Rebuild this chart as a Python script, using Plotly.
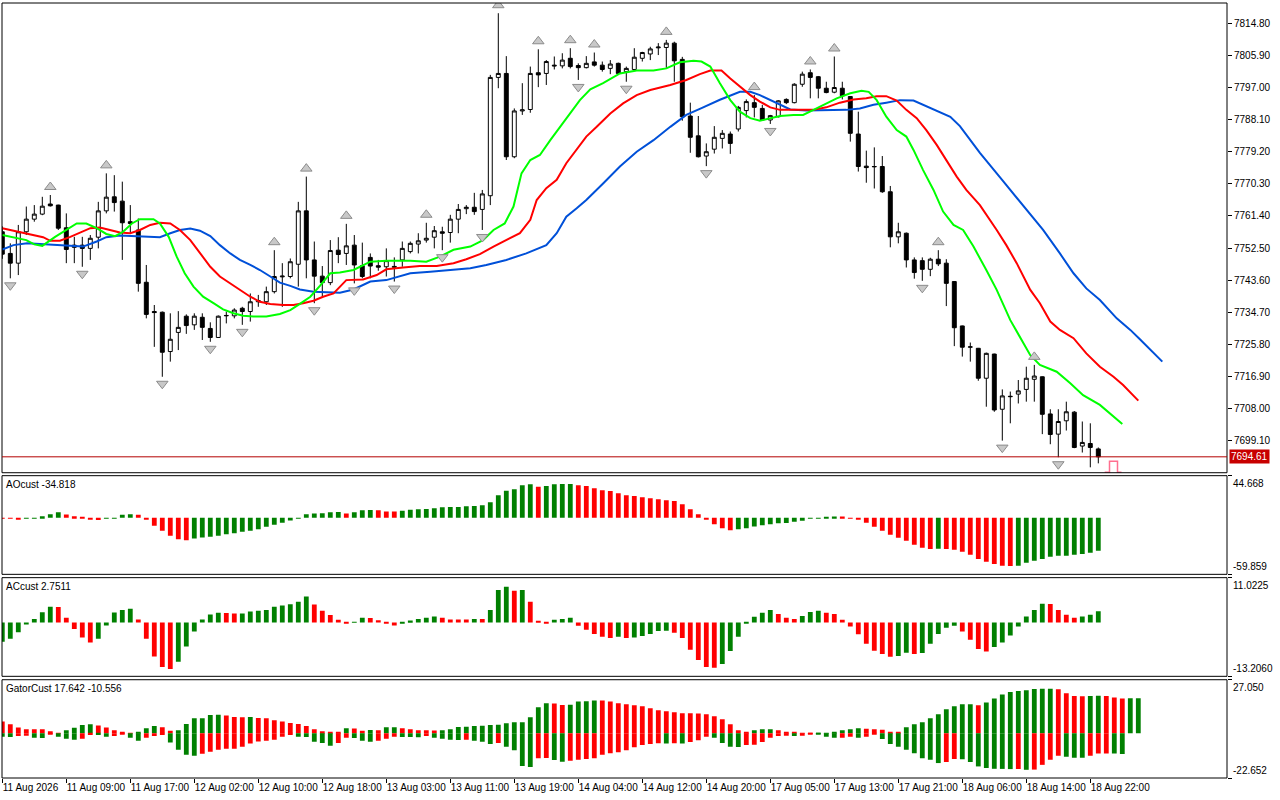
import plotly.graph_objects as go

# hourly bars, index 0..137 (11 Aug 2026 01:00 .. 18 Aug 23:00), one label every 8 bars
tick_bars = list(range(0, 137, 8))
tick_labels = ["11 Aug 2026", "11 Aug 09:00", "11 Aug 17:00", "12 Aug 02:00", "12 Aug 10:00",
               "12 Aug 18:00", "13 Aug 03:00", "13 Aug 11:00", "13 Aug 19:00", "14 Aug 04:00",
               "14 Aug 12:00", "14 Aug 20:00", "17 Aug 05:00", "17 Aug 13:00", "17 Aug 21:00",
               "18 Aug 06:00", "18 Aug 14:00", "18 Aug 22:00"]

price_ticks = [7699.10, 7708.00, 7716.90, 7725.80, 7734.70, 7743.60, 7752.50,
               7761.40, 7770.30, 7779.20, 7788.10, 7797.00, 7805.90, 7814.80]
last_price = 7694.61

opens = [7757.0, 7751.0, 7748.3, 7757.0, 7760.5, 7761.9, 7764.7, 7764.4, 7758.1, 7753.3,
         7753.3, 7752.4, 7755.5, 7762.8, 7766.7, 7765.5, 7759.8, 7757.5, 7743.0, 7734.9,
         7734.7, 7723.8, 7729.1, 7733.6, 7731.2, 7733.3, 7730.2, 7727.7, 7733.7, 7733.7,
         7735.8, 7734.9, 7737.6, 7737.6, 7740.4, 7744.5, 7744.6, 7748.0, 7762.8, 7749.2,
         7744.7, 7742.9, 7751.9, 7751.0, 7753.3, 7747.6, 7749.9, 7747.6, 7747.3, 7747.4,
         7749.2, 7751.5, 7753.6, 7754.7, 7755.5, 7757.0, 7756.8, 7760.5, 7763.4, 7763.8,
         7763.2, 7767.0, 7799.8, 7800.9, 7777.8, 7790.5, 7790.9, 7801.1, 7800.9, 7803.2,
         7803.0, 7805.1, 7803.1, 7802.5, 7804.1, 7803.2, 7802.3, 7803.7, 7801.4, 7802.0,
         7805.1, 7806.3, 7808.0, 7808.1, 7809.3, 7804.8, 7789.1, 7783.6, 7778.0, 7779.9,
         7782.9, 7784.1, 7785.5, 7790.6, 7792.8, 7791.2, 7788.0, 7788.9, 7793.7, 7792.8,
         7797.9, 7801.1, 7800.0, 7796.8, 7795.7, 7796.8, 7794.5, 7784.1, 7775.2, 7775.0,
         7775.1, 7768.1, 7755.6, 7756.6, 7749.2, 7749.0, 7746.6, 7749.4, 7748.3, 7743.2,
         7730.9, 7725.0, 7724.7, 7716.4, 7723.1, 7707.8, 7711.4, 7712.0, 7713.3, 7716.1,
         7716.8, 7706.5, 7700.9, 7704.6, 7707.0, 7697.6, 7698.3, 7696.8]
highs = [7758.5, 7753.8, 7758.9, 7764.0, 7764.4, 7766.7, 7767.2, 7764.5, 7762.1, 7755.6,
         7755.6, 7756.1, 7765.3, 7773.2, 7772.7, 7770.9, 7764.4, 7760.7, 7747.8, 7736.7,
         7734.9, 7734.4, 7735.0, 7734.1, 7734.4, 7734.4, 7731.9, 7733.8, 7734.9, 7735.8,
         7736.2, 7739.9, 7739.5, 7741.8, 7751.9, 7748.3, 7749.6, 7765.3, 7772.3, 7754.3,
         7747.5, 7754.7, 7755.5, 7759.2, 7756.1, 7754.0, 7751.0, 7749.2, 7752.4, 7749.9,
         7754.3, 7754.3, 7756.6, 7759.5, 7758.6, 7758.4, 7761.7, 7764.7, 7764.4, 7767.8,
         7768.6, 7800.5, 7817.6, 7805.7, 7791.2, 7798.2, 7802.8, 7807.6, 7804.6, 7805.6,
         7806.5, 7807.9, 7803.7, 7805.7, 7806.7, 7804.2, 7804.6, 7803.9, 7802.8, 7807.9,
         7806.9, 7808.3, 7809.3, 7810.2, 7809.7, 7805.5, 7792.8, 7789.1, 7781.5, 7786.3,
         7785.2, 7784.8, 7791.9, 7793.7, 7794.9, 7792.2, 7789.4, 7793.5, 7794.0, 7798.2,
         7801.4, 7802.0, 7800.2, 7798.6, 7805.6, 7798.6, 7794.6, 7790.3, 7779.5, 7780.4,
         7778.0, 7769.7, 7759.5, 7756.8, 7749.9, 7749.9, 7749.8, 7751.9, 7749.4, 7743.3,
         7731.0, 7726.3, 7724.8, 7723.5, 7723.2, 7713.3, 7712.7, 7715.9, 7719.6, 7720.1,
         7716.9, 7707.8, 7707.8, 7709.9, 7707.3, 7704.4, 7703.9, 7697.2]
lows = [7749.5, 7744.1, 7745.0, 7756.1, 7759.8, 7761.6, 7764.0, 7757.5, 7748.3, 7748.3,
        7747.3, 7749.2, 7752.4, 7762.1, 7762.6, 7749.2, 7756.6, 7740.4, 7733.0, 7725.1,
        7716.8, 7721.0, 7724.2, 7728.7, 7729.8, 7727.0, 7726.5, 7727.6, 7731.6, 7733.0,
        7731.2, 7732.1, 7736.2, 7736.7, 7739.9, 7736.2, 7744.1, 7741.8, 7744.1, 7737.2,
        7739.0, 7742.2, 7748.3, 7747.8, 7742.7, 7744.1, 7744.1, 7746.2, 7744.6, 7743.2,
        7747.3, 7751.0, 7751.0, 7754.0, 7752.4, 7751.9, 7754.0, 7756.6, 7761.9, 7761.7,
        7757.5, 7764.4, 7796.8, 7776.9, 7777.4, 7789.4, 7790.0, 7797.1, 7797.7, 7802.0,
        7802.3, 7802.3, 7799.1, 7802.3, 7802.8, 7801.4, 7800.7, 7800.5, 7798.6, 7801.9,
        7804.2, 7804.6, 7806.0, 7802.3, 7798.6, 7787.8, 7778.9, 7777.6, 7775.2, 7778.7,
        7780.1, 7778.6, 7784.8, 7788.7, 7788.7, 7787.8, 7786.9, 7788.7, 7792.4, 7792.6,
        7797.2, 7794.0, 7794.0, 7795.4, 7795.4, 7793.7, 7782.0, 7773.7, 7770.6, 7769.0,
        7767.8, 7752.7, 7753.8, 7747.1, 7744.0, 7743.4, 7744.7, 7747.5, 7736.4, 7725.3,
        7722.4, 7721.0, 7715.7, 7708.5, 7707.1, 7699.1, 7703.9, 7709.4, 7709.9, 7709.9,
        7700.9, 7698.1, 7694.5, 7701.9, 7697.0, 7695.8, 7691.7, 7692.8]
closes = [7750.8, 7748.3, 7757.0, 7760.5, 7761.9, 7764.1, 7764.2, 7758.0, 7752.1, 7752.7,
          7752.4, 7755.2, 7762.8, 7766.6, 7765.1, 7759.5, 7759.3, 7742.7, 7734.1, 7734.6,
          7723.6, 7727.2, 7730.5, 7731.0, 7733.6, 7730.5, 7727.7, 7733.6, 7733.8, 7735.3,
          7734.9, 7737.6, 7737.9, 7740.4, 7744.6, 7744.7, 7748.7, 7762.8, 7749.2, 7744.7,
          7742.9, 7751.8, 7750.7, 7753.1, 7747.8, 7744.6, 7747.5, 7747.2, 7749.0, 7747.2,
          7752.4, 7753.8, 7754.5, 7755.2, 7757.3, 7756.6, 7760.5, 7763.2, 7763.8, 7762.6,
          7767.5, 7799.8, 7800.9, 7777.8, 7790.5, 7790.8, 7800.9, 7800.5, 7804.2, 7803.0,
          7804.6, 7802.8, 7802.5, 7803.7, 7803.2, 7802.0, 7803.5, 7800.9, 7802.3, 7805.4,
          7806.7, 7807.7, 7808.2, 7809.3, 7804.4, 7788.9, 7783.2, 7777.8, 7779.2, 7783.2,
          7784.3, 7781.5, 7791.5, 7793.1, 7791.5, 7788.0, 7789.2, 7793.3, 7792.8, 7797.9,
          7800.7, 7799.8, 7796.8, 7795.6, 7797.0, 7794.7, 7784.3, 7775.1, 7774.8, 7775.1,
          7768.1, 7755.6, 7757.0, 7749.2, 7745.7, 7746.6, 7749.4, 7748.1, 7742.7, 7730.4,
          7725.0, 7725.1, 7716.4, 7723.3, 7707.6, 7711.5, 7711.3, 7712.9, 7716.4, 7717.0,
          7706.4, 7700.8, 7704.4, 7707.1, 7697.2, 7698.6, 7697.2, 7694.61]

# bars carrying a fractal mark
up_fractals = [6, 13, 34, 38, 43, 53, 62, 67, 71, 74, 83, 94, 101, 104, 117, 129]
down_fractals = [1, 10, 20, 26, 30, 39, 44, 49, 55, 60, 72, 78, 88, 96, 115, 125, 132]

# alligator lines, sampled (bar position, price); they run past the last bar (shifted)
lips_k = [0, 2, 3, 4, 5, 6.6, 8, 9.3, 10.5, 11.8,
          13, 14.1, 15.1, 16.2, 17.2, 18.9, 19.7, 20.8, 21.8, 22.8,
          23.9, 25.1, 26.4, 27.6, 28.9, 30.1, 31.4, 33, 34.7, 36,
          37.2, 38.5, 39.7, 41, 42.2, 43.9, 46, 48, 51, 53,
          54.7, 56.4, 58.5, 60.1, 61.4, 62.8, 63.9, 64.9, 66, 67.2,
          68.5, 69.7, 71, 72.2, 73.5, 75.1, 77.2, 79.3, 81.4, 83,
          84.7, 86.4, 87.4, 88.5, 89.7, 91, 92.2, 93.5, 94.7, 96,
          97.2, 98.9, 100.1, 101.4, 102.6, 104.3, 106, 107.4, 108.3, 109.3,
          110.5, 111.8, 113, 113.9, 115.1, 116.4, 117.6, 118.9, 120.1, 121.4,
          123, 124.3, 126, 127.2, 128.5, 129.7, 131.8, 133.5, 135.1, 137.2,
          138.9, 140]
lips_p = [7756.1, 7755.2, 7754.7, 7753.5, 7753.1, 7755.6, 7757.5, 7759.3, 7759.3, 7758.0,
          7756.4, 7755.8, 7757.0, 7759.3, 7760.5, 7760.5, 7759.3, 7755.6, 7750.1, 7745.5,
          7741.8, 7739.0, 7737.2, 7735.5, 7734.4, 7733.7, 7733.5, 7733.5, 7734.2, 7735.3,
          7737.0, 7739.0, 7742.0, 7745.5, 7745.7, 7746.4, 7748.7, 7749.0, 7749.0, 7748.7,
          7750.1, 7752.0, 7752.9, 7754.7, 7757.5, 7759.3, 7764.0, 7773.2, 7776.9, 7778.3,
          7782.4, 7786.1, 7789.8, 7793.5, 7796.5, 7798.2, 7800.9, 7801.7, 7801.7, 7802.3,
          7804.0, 7804.4, 7804.2, 7802.8, 7798.2, 7793.5, 7790.3, 7788.5, 7787.8, 7788.5,
          7789.1, 7789.4, 7789.4, 7790.8, 7792.2, 7794.0, 7795.4, 7796.1, 7795.8, 7793.5,
          7788.9, 7785.2, 7783.4, 7779.7, 7774.1, 7768.6, 7762.6, 7758.9, 7757.5, 7752.9,
          7746.4, 7740.9, 7732.5, 7727.9, 7722.8, 7720.1, 7718.2, 7715.0, 7711.7, 7709.0,
          7705.7, 7703.7]
teeth_k = [0, 2.2, 3.9, 5.1, 6, 7.2, 8.5, 9.7, 11, 12.2,
           13.5, 14.7, 16, 17.2, 18.5, 19.7, 21, 22.2, 23.5, 24.7,
           26, 27.2, 28.5, 29.7, 31, 32.2, 33.5, 35.1, 36.4, 37.6,
           38.9, 40.1, 41.4, 43, 45.1, 46.8, 48, 50.1, 52.2, 54.3,
           56.4, 58, 59.7, 61.4, 63, 64.7, 66, 66.8, 68, 69.3,
           70.5, 71.8, 73, 74.3, 76, 77.6, 79.3, 81, 83.5, 85.5,
           87.2, 88.5, 89.9, 91, 92.2, 93.5, 94.7, 96, 97.2, 98.9,
           101.4, 103, 104.7, 106.4, 108, 109.3, 110.5, 111.8, 113, 114.3,
           115.5, 116.8, 118, 119.3, 120.5, 122.2, 124.3, 125.5, 126.8, 128.5,
           129.7, 131, 132.2, 133.9, 135.5, 137.2, 138.9, 140.1, 142]
teeth_p = [7758.0, 7757.0, 7756.1, 7755.5, 7754.5, 7754.5, 7755.6, 7756.8, 7758.0, 7758.2,
           7757.5, 7756.8, 7756.6, 7757.5, 7758.9, 7759.5, 7759.3, 7757.5, 7754.7, 7751.0,
           7747.3, 7744.6, 7742.7, 7740.9, 7739.0, 7737.6, 7737.0, 7736.7, 7736.7, 7737.2,
           7737.9, 7739.0, 7739.9, 7743.6, 7743.8, 7745.0, 7746.6, 7747.1, 7747.5, 7747.5,
           7748.3, 7749.4, 7750.8, 7752.9, 7754.7, 7756.6, 7760.3, 7765.8, 7769.1, 7771.4,
           7776.0, 7779.7, 7783.4, 7786.1, 7789.8, 7792.6, 7794.9, 7796.3, 7797.7, 7799.1,
           7800.7, 7801.7, 7801.7, 7799.5, 7797.2, 7794.9, 7793.1, 7791.5, 7790.8, 7790.8,
           7790.8, 7791.5, 7792.8, 7793.7, 7794.0, 7794.6, 7794.6, 7793.4, 7790.8, 7788.5,
           7785.2, 7781.1, 7776.9, 7772.3, 7768.6, 7764.4, 7757.5, 7753.3, 7748.3, 7740.9,
           7737.2, 7732.1, 7729.8, 7727.5, 7723.3, 7719.6, 7716.8, 7714.5, 7710.2]
jaw_k = [0, 1.4, 3.1, 5.1, 8, 10.1, 11.8, 13, 14.7, 16.8,
         18, 19.7, 21, 22.2, 23.5, 24.7, 26, 27.2, 28.5, 29.7,
         31, 32.2, 33.5, 34.7, 36, 37.2, 38.9, 41, 42.2, 43.9,
         46, 48, 51, 53.5, 56.4, 58.5, 60.5, 63, 65.5, 68,
         69.3, 70.5, 71.8, 73, 75.1, 77.2, 79.3, 81.4, 83.5, 85.5,
         87.4, 89.7, 92.2, 93.5, 94.7, 96, 97.2, 98.5, 100.5, 103.5,
         105.5, 107.2, 108.9, 110.5, 112.2, 113.9, 115.5, 117.2, 118.5, 119.7,
         121, 122.2, 125, 127.5, 130.1, 132.2, 133.9, 135.5, 137.2, 139.3,
         141, 142.2, 145]
jaw_p = [7752.1, 7753.3, 7753.8, 7753.6, 7753.3, 7752.9, 7754.3, 7755.5, 7756.0, 7755.8,
         7755.5, 7755.5, 7756.6, 7757.5, 7757.9, 7757.3, 7755.8, 7753.3, 7751.0, 7749.2,
         7747.8, 7746.4, 7744.6, 7742.9, 7742.0, 7741.0, 7740.4, 7740.1, 7740.1, 7741.0,
         7743.2, 7743.6, 7745.5, 7745.9, 7746.4, 7746.9, 7747.8, 7749.2, 7751.0, 7753.3,
         7756.6, 7761.2, 7763.5, 7765.8, 7770.4, 7775.1, 7779.2, 7782.4, 7786.1, 7789.4,
         7791.3, 7793.6, 7795.8, 7795.8, 7794.9, 7793.5, 7792.2, 7790.9, 7790.6, 7790.8,
         7790.8, 7791.2, 7792.2, 7792.8, 7793.5, 7793.4, 7791.9, 7790.3, 7788.9, 7786.3,
         7782.4, 7778.9, 7771.3, 7764.4, 7757.5, 7751.0, 7745.5, 7741.3, 7738.1, 7733.0,
         7729.8, 7727.2, 7721.0]

# small pink marker to the right of the last bar
marker_k = [137.8, 138.4, 138.4, 139.4, 139.4, 139.9]
marker_p = [7690.3, 7690.3, 7693.4, 7693.4, 7690.3, 7690.3]

ao = [-0.6, -0.8, -0.9, -0.5, -0.2, 1.8, 3.9, 6.0, 3.5, 1.8,
      0.3, -1.1, -2.4, -0.6, -0.2, 3.2, 3.9, 3.2, -2.1, -8.5,
      -13.8, -19.1, -22.6, -23.7, -21.9, -20.8, -20.1, -19.1, -17.3, -16.3,
      -14.8, -13.8, -12.0, -9.5, -7.4, -5.3, -2.8, -0.3, 3.9, 4.6,
      4.9, 6.0, 6.1, 4.6, 6.0, 8.1, 8.2, 8.0, 6.7, 6.6,
      7.4, 8.6, 9.2, 9.3, 10.2, 11.3, 11.4, 11.5, 12.4, 12.5,
      13.4, 16.6, 24.0, 28.6, 30.4, 34.6, 35.7, 32.9, 33.6, 35.7,
      35.8, 35.9, 34.6, 33.6, 31.4, 29.3, 28.3, 26.1, 24.0, 23.0,
      21.9, 20.8, 19.8, 18.7, 17.7, 14.5, 9.2, 3.9, -2.1, -6.7,
      -11.0, -13.1, -12.0, -11.0, -9.2, -7.8, -6.7, -5.7, -5.6, -4.2,
      -3.2, -0.7, -0.4, 0.7, 1.4, 1.3, -0.5, -1.1, -5.3, -9.5,
      -13.8, -18.0, -21.2, -24.4, -28.6, -31.8, -32.9, -32.8, -33.0, -33.9,
      -36.0, -39.2, -43.5, -46.6, -48.8, -50.9, -51.0, -50.8, -47.7, -45.6,
      -43.5, -41.3, -40.3, -40.2, -39.2, -38.2, -37.1, -34.818]
ac = [-4.7, -4.0, -2.4, -0.5, 0.9, 2.5, 3.85, 3.8, 1.15, -1.56,
      -3.7, -4.9, -4.0, -0.74, 2.46, 3.1, 3.36, 0.74, -4.0, -8.35,
      -10.9, -11.4, -9.6, -5.9, -2.2, 0.74, 1.97, 2.38, 2.36, 2.2,
      2.22, 2.7, 2.87, 3.1, 3.85, 4.18, 4.5, 5.08, 6.39, 4.42,
      2.87, 1.88, 0.66, -0.08, 0.08, 1.15, 1.13, 0.57, -0.16, -0.74,
      -0.15, 0.49, 0.9, 1.15, 1.47, 1.15, 0.74, 0.73, 0.72, 0.9,
      0.89, 3.1, 8.0, 8.76, 7.78, 8.0, 5.08, 0.4, -0.25, 0.66,
      0.9, 1.15, -0.8, -1.8, -2.8, -3.5, -3.77, -3.5, -3.77, -3.7,
      -3.3, -2.8, -2.05, -2.0, -2.5, -3.8, -6.7, -9.2, -10.9, -11.1,
      -10.2, -7.0, -3.5, -0.1, 1.4, 2.4, 3.1, 2.1, 1.15, 0.9,
      1.6, 2.6, 2.9, 2.4, 2.1, 0.66, -1.0, -2.9, -5.2, -6.9,
      -7.7, -8.4, -8.2, -7.4, -7.7, -7.45, -5.2, -2.8, -1.3, -0.8,
      -2.2, -4.2, -6.5, -7.1, -6.0, -4.9, -3.2, -1.0, 1.5, 3.1,
      4.6, 4.55, 3.1, 1.9, 1.15, 1.5, 1.9, 2.7511]
gator_up = [5.88, 4.54, 2.86, 2.02, 2.0, 1.98, 1.0, 0.2, 1.5, 2.7,
            4.2, 4.5, 3.9, 2.9, 1.5, 0.5, 0.1, 0.5, 2.5, 3.7,
            3.0, 1.3, 1.5, 4.7, 7.56, 7.6, 9.24, 9.3, 8.9, 8.2,
            8.1, 8.2, 7.7, 7.6, 6.55, 5.9, 5.2, 4.7, 3.7, 2.0,
            1.0, 0.5, 0.4, 2.5, 2.4, 1.2, 1.6, 1.5, 3.0, 3.05,
            2.5, 2.0, 1.5, 1.45, 1.4, 1.5, 2.0, 3.2, 3.25, 3.7,
            3.75, 4.2, 4.25, 5.0, 5.5, 5.6, 8.1, 13.1, 15.1, 15.0,
            14.3, 14.35, 16.1, 16.15, 16.6, 16.55, 16.1, 15.1, 14.6, 14.1,
            13.6, 12.6, 11.6, 11.1, 10.6, 10.1, 10.05, 10.0, 9.6, 8.6,
            7.1, 4.5, 1.5, 0.5, 1.5, 2.0, 2.05, 1.5, 0.5, 0.3,
            0.2, 0.1, 0.15, 0.2, 0.5, 1.5, 2.0, 2.5, 2.3, 2.0,
            1.7, 0.8, 0.3, 3.0, 4.5, 5.5, 7.6, 9.6, 12.1, 13.6,
            14.6, 14.65, 14.1, 15.5, 17.6, 19.6, 20.8, 21.3, 21.7, 22.3,
            22.5, 22.55, 22.2, 20.2, 18.8, 18.7, 18.8, 18.9, 18.8, 18.0,
            17.6, 17.62, 17.642]
gator_down = [-1.85, -1.9, -1.35, -1.3, -2.35, -2.4, -0.3, -1.85, -2.85, -3.35,
              -2.85, -0.85, -0.9, -1.85, -1.35, -0.5, -2.35, -3.85, -2.35, -1.35,
              -0.85, -4.7, -8.4, -10.9, -11.4, -10.4, -9.4, -8.4, -7.9, -7.85,
              -6.9, -5.2, -4.2, -3.85, -3.35, -1.85, -0.85, -1.85, -1.9, -4.35,
              -4.9, -6.4, -4.9, -2.35, -2.4, -3.85, -4.35, -3.85, -2.85, -1.85,
              -1.9, -1.95, -2.0, -1.4, -2.35, -2.85, -3.35, -3.4, -3.35, -3.85,
              -4.35, -5.4, -4.9, -6.9, -8.6, -16.6, -17.1, -12.6, -12.5, -13.6,
              -14.4, -13.9, -13.4, -13.1, -12.6, -10.9, -10.1, -9.6, -8.6, -7.1,
              -5.9, -5.5, -5.1, -5.15, -5.1, -5.15, -4.5, -3.5, -1.8, -2.35,
              -4.9, -6.9, -6.95, -5.9, -5.85, -4.5, -2.35, -1.35, -1.3, -1.35,
              -1.3, -0.5, -0.8, -1.85, -2.35, -2.3, -1.8, -2.35, -1.85, -0.5,
              -2.9, -5.4, -6.9, -8.4, -10.1, -12.6, -13.4, -15.1, -14.6, -13.1,
              -13.15, -14.6, -16.8, -17.6, -18.0, -18.05, -18.15, -18.1, -18.5, -18.4,
              -16.0, -13.4, -11.4, -11.9, -12.4, -12.45, -11.4, -10.3, -10.2, -10.25,
              -10.556]

# fixed scales of the four windows
price_range = [7690.20, 7820.43]
ao_range = [-59.859, 44.668]
ac_range = [-13.2060, 11.0225]
gator_range = [-22.652, 27.050]
ao_labels = ["44.668", "-59.859"]
ac_labels = ["11.0225", "-13.2060"]
gator_labels = ["27.050", "-22.652"]

GREEN = "#008000"
RED = "#ff0000"
FONT = "Liberation Sans"


def bar_colors(values, first, magnitude=False):
    """Green when a bar grows against the previous one, red when it shrinks."""
    colors = [first]
    for prev, cur in zip(values[:-1], values[1:]):
        a, b = (abs(prev), abs(cur)) if magnitude else (prev, cur)
        if b > a:
            colors.append(GREEN)
        elif b < a:
            colors.append(RED)
        else:
            colors.append(colors[-1])
    return colors


def build_figure():
    fig = go.Figure()
    bars = list(range(len(closes)))

    # main window: candles, alligator, fractals
    fig.add_trace(go.Candlestick(
        x=bars, open=opens, high=highs, low=lows, close=closes,
        increasing=dict(line=dict(color="black", width=1), fillcolor="white"),
        decreasing=dict(line=dict(color="black", width=1), fillcolor="black"),
        whiskerwidth=0, xaxis="x", yaxis="y"))
    for ks, ps, color in [(jaw_k, jaw_p, "#0050d8"), (teeth_k, teeth_p, "#ff0000"),
                          (lips_k, lips_p, "#00ff00")]:
        fig.add_trace(go.Scatter(x=ks, y=ps, mode="lines", line=dict(color=color, width=2),
                                 xaxis="x", yaxis="y"))

    # fractal arrows sit a few pixels off the bar extremes
    px = (price_range[1] - price_range[0]) / 470.0
    fig.add_trace(go.Scatter(
        x=up_fractals, y=[highs[i] + 8 * px for i in up_fractals], mode="markers",
        marker=dict(symbol="triangle-up", size=10, color="#c8c8c8",
                    line=dict(color="#8c8c8c", width=1)), xaxis="x", yaxis="y"))
    fig.add_trace(go.Scatter(
        x=down_fractals, y=[lows[i] - 7 * px for i in down_fractals], mode="markers",
        marker=dict(symbol="triangle-down", size=10, color="#c8c8c8",
                    line=dict(color="#8c8c8c", width=1)), xaxis="x", yaxis="y"))
    fig.add_trace(go.Scatter(x=marker_k, y=marker_p, mode="lines",
                             line=dict(color="#ff6f8f", width=1.5), xaxis="x", yaxis="y"))

    # oscillator windows
    fig.add_trace(go.Bar(x=list(range(len(ao))), y=ao, width=0.6,
                         marker=dict(color=bar_colors(ao, RED), line=dict(width=0)),
                         xaxis="x", yaxis="y2"))
    fig.add_trace(go.Bar(x=list(range(len(ac))), y=ac, width=0.6,
                         marker=dict(color=bar_colors(ac, GREEN), line=dict(width=0)),
                         xaxis="x", yaxis="y3"))
    fig.add_trace(go.Bar(x=list(range(len(gator_up))), y=gator_up, width=0.6,
                         marker=dict(color=bar_colors(gator_up, RED), line=dict(width=0)),
                         xaxis="x", yaxis="y4"))
    fig.add_trace(go.Bar(x=list(range(len(gator_down))), y=gator_down, width=0.6,
                         marker=dict(color=bar_colors(gator_down, GREEN, magnitude=True),
                                     line=dict(width=0)),
                         xaxis="x", yaxis="y4"))

    def yax(domain, rng, **kw):
        d = dict(domain=domain, range=rng, side="right", ticks="outside", ticklen=4,
                 tickcolor="black", showgrid=False, zeroline=False, showline=False,
                 automargin=False, fixedrange=True, tickfont=dict(size=10))
        d.update(kw)
        return d

    fig.update_layout(
        template="none", width=1280, height=800,
        margin=dict(l=2, r=53, t=3, b=22, autoexpand=False),
        paper_bgcolor="white", plot_bgcolor="white",
        showlegend=False, barmode="overlay", hovermode=False,
        font=dict(family=FONT, size=10, color="black"),
        xaxis=dict(domain=[0, 1], range=[-0.0375, 153.0875], anchor="y4",
                   tickvals=tick_bars, ticktext=tick_labels, ticks="outside", ticklen=4,
                   tickcolor="black", ticklabelposition="outside right", tickangle=0,
                   showgrid=False, zeroline=False, showline=False, automargin=False,
                   rangeslider=dict(visible=False), fixedrange=True,
                   tickfont=dict(size=10)),
        yaxis=yax([0.3939, 1.0], price_range, tickvals=price_ticks,
                  ticktext=[f"{v:.2f}" for v in price_ticks]),
        yaxis2=yax([0.2628, 0.3901], ao_range, tickvals=ao_range, showticklabels=False),
        yaxis3=yax([0.1312, 0.2585], ac_range, tickvals=ac_range, showticklabels=False),
        yaxis4=yax([0.0, 0.1268], gator_range, tickvals=gator_range, showticklabels=False),
    )

    # window frames and the last price line
    for ax in ["y", "y2", "y3", "y4"]:
        fig.add_shape(type="rect", xref="paper", yref=f"{ax} domain", x0=0, x1=1, y0=0, y1=1,
                      line=dict(color="black", width=1), layer="above")
    fig.add_shape(type="line", xref="paper", yref="y", x0=0, x1=1, y0=last_price, y1=last_price,
                  line=dict(color="#b40000", width=1))
    fig.add_annotation(x=1, xref="paper", y=last_price, yref="y", xanchor="left", xshift=2,
                       text=f"{last_price:.2f}", showarrow=False, bgcolor="#c80000",
                       font=dict(color="white", size=10), borderpad=1)

    titles = [("y2", f"AOcust {ao[-1]:.3f}", ao_labels),
              ("y3", f"ACcust {ac[-1]:.4f}", ac_labels),
              ("y4", f"GatorCust {gator_up[-1]:.3f} {gator_down[-1]:.3f}", gator_labels)]
    for ax, title, (top, bottom) in titles:
        fig.add_annotation(x=0, xref="paper", y=1, yref=f"{ax} domain", xanchor="left",
                           yanchor="top", xshift=2, yshift=-1, text=title, showarrow=False)
        fig.add_annotation(x=1, xref="paper", y=1, yref=f"{ax} domain", xanchor="left",
                           yanchor="top", xshift=4, text=top, showarrow=False)
        fig.add_annotation(x=1, xref="paper", y=0, yref=f"{ax} domain", xanchor="left",
                           yanchor="bottom", xshift=4, text=bottom, showarrow=False)
    return fig


if __name__ == "__main__":
    fig = build_figure()
    # drop the browser's default page margin so the chart sits at the window corner
    fig.write_html("out.html", config={"displayModeBar": False},
                   post_script="document.body.style.margin='0px';")
